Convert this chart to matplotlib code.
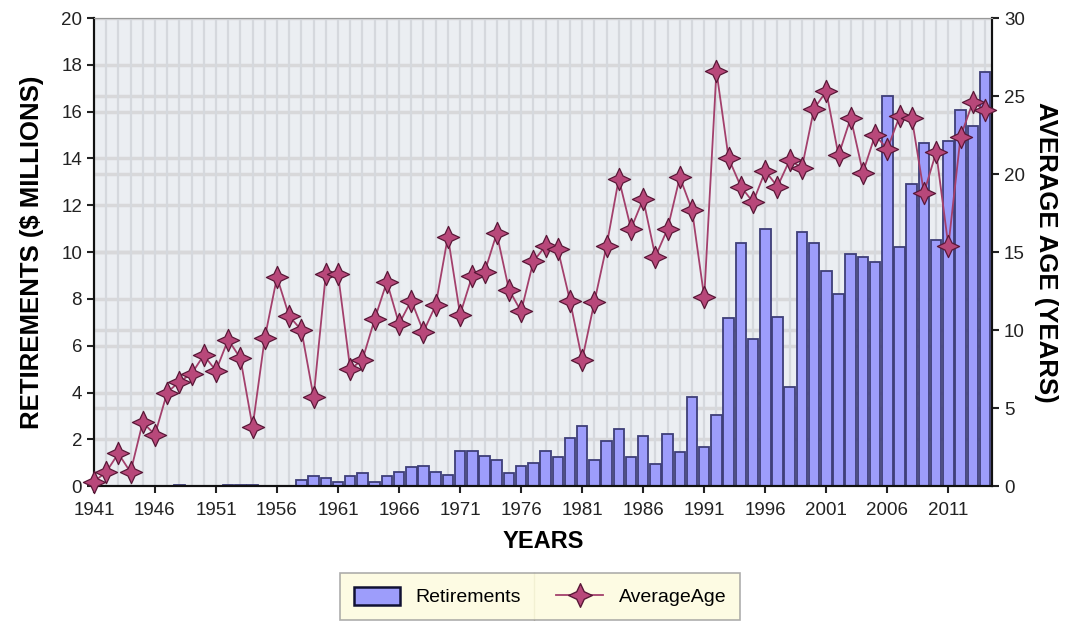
import matplotlib
matplotlib.use("Agg")
import matplotlib.pyplot as plt
from matplotlib.path import Path
from matplotlib.patches import Patch
from matplotlib.lines import Line2D

plt.rcParams['font.family'] = ['Liberation Sans', 'DejaVu Sans']

#%% Data #####################################################################

years = list(range(1941, 2015))

retirements = [0, 0, 0, 0, 0, 0, 0, 0.05, 0, 0,
               0, 0.05, 0.06, 0.04, 0, 0, 0.03, 0.27, 0.43, 0.36,
               0.19, 0.44, 0.57, 0.17, 0.44, 0.61, 0.81, 0.85, 0.61, 0.50,
               1.52, 1.52, 1.28, 1.14, 0.57, 0.85, 1.00, 1.52, 1.24, 2.04,
               2.59, 1.14, 1.95, 2.46, 1.24, 2.14, 0.93, 2.24, 1.45, 3.80,
               1.68, 3.06, 7.17, 10.37, 6.31, 10.98, 7.24, 4.22, 10.84, 10.37,
               9.19, 8.23, 9.91, 9.80, 9.59, 16.67, 10.20, 12.93, 14.64, 10.51,
               14.74, 16.07, 15.38, 17.71]

average_age = [0.3, 0.9, 2.1, 0.9, 4.1, 3.3, 6.0, 6.7, 7.2, 8.4,
               7.4, 9.4, 8.2, 3.8, 9.5, 13.4, 10.9, 10.0, 5.7, 13.6,
               13.6, 7.5, 8.1, 10.7, 13.1, 10.4, 11.9, 9.9, 11.6, 16.0,
               11.0, 13.5, 13.7, 16.2, 12.6, 11.2, 14.4, 15.4, 15.2, 11.9,
               8.1, 11.8, 15.4, 19.7, 16.5, 18.4, 14.7, 16.5, 19.8, 17.7,
               12.1, 26.6, 21.0, 19.2, 18.2, 20.2, 19.2, 20.9, 20.4, 24.2,
               25.3, 21.2, 23.6, 20.1, 22.5, 21.6, 23.7, 23.6, 18.8, 21.4,
               15.4, 22.4, 24.6, 24.1]

year_ticks = list(range(1941, 2012, 5))
left_ticks = list(range(0, 21, 2))
right_ticks = list(range(0, 31, 5))

#%% Style ####################################################################

bar_face = '#9d9dfb'
bar_edge = '#3e3e78'
line_color = '#a3406c'
star_face = '#b8487a'
star_edge = '#5a1838'
star = Path.unit_regular_star(4, 0.45)

#%% Plot #####################################################################

fig = plt.figure(figsize=(10.67, 6.21), dpi=100)
ax1 = fig.add_axes([0.088, 0.217, 0.842, 0.754])
ax1.set_facecolor('#ebeef2')

ax1.set_xlim(1941, 2014.6)
ax1.set_ylim(0, 20)

# horizontal grid for both axes, drawn behind the bars
for t in left_ticks[1:]:
    ax1.axhline(t, color='#d8d8da', lw=2.5, zorder=0)
for t in right_ticks[1:-1]:
    ax1.axhline(t * 20 / 30, color='#d8d8da', lw=2.5, zorder=0)
for y in years:
    ax1.axvline(y, color='#d5d8dd', lw=1.6, zorder=0)

ax1.bar(years, retirements, width=0.86, color=bar_face,
        edgecolor=bar_edge, linewidth=1.3, zorder=2)

ax1.set_xticks(year_ticks)
ax1.set_yticks(left_ticks)
ax1.tick_params(axis='both', labelsize=13.5, colors='#222222', length=5,
                width=1.5, direction='out')
ax1.tick_params(axis='x', pad=6)
ax1.set_xlabel('YEARS', fontsize=17, fontweight='bold', labelpad=8)
ax1.set_ylabel('RETIREMENTS ($ MILLIONS)', fontsize=18.5, fontweight='bold',
               labelpad=12)
for s in ['left', 'bottom', 'right']:
    ax1.spines[s].set_linewidth(1.5)
    ax1.spines[s].set_color('#111111')
ax1.spines['top'].set_color('#999999')

ax2 = ax1.twinx()
ax2.set_ylim(0, 30)
ax2.set_yticks(right_ticks)
ax2.plot(years, average_age, color=line_color, lw=1.3, marker=star,
         markersize=16, markerfacecolor=star_face, markeredgecolor=star_edge,
         markeredgewidth=0.9, clip_on=False, zorder=3)
ax2.tick_params(axis='y', labelsize=13.5, colors='#222222', length=5,
                width=1.5, direction='out')
ax2.set_ylabel('AVERAGE AGE (YEARS)', fontsize=18.5, fontweight='bold',
               rotation=270, labelpad=24)
for s in ['left', 'bottom', 'right']:
    ax2.spines[s].set_linewidth(1.5)
    ax2.spines[s].set_color('#111111')
ax2.spines['top'].set_color('#999999')

handles = [Patch(facecolor=bar_face, edgecolor='#111133', linewidth=1.8),
           Line2D([], [], color=line_color, lw=1.3, marker=star,
                  markersize=17, markerfacecolor=star_face,
                  markeredgecolor=star_edge)]
leg = fig.legend(handles, ['Retirements', 'AverageAge'], ncol=2,
                 loc='center', bbox_to_anchor=(0.506, 0.039), fontsize=14,
                 frameon=True, fancybox=False, facecolor='#fdfbdc',
                 edgecolor='#9a9a9a', handlelength=2.4, handleheight=1.0,
                 columnspacing=1.8, borderpad=0.7)
leg.get_frame().set_linewidth(1.2)

# divider between the two legend entries
fig.canvas.draw()
bb = leg.get_window_extent().transformed(fig.transFigure.inverted())
t1 = leg.get_texts()[0].get_window_extent().transformed(fig.transFigure.inverted())
xd = t1.x1 + 0.012
fig.add_artist(Line2D([xd, xd], [bb.y0, bb.y1], color='#c8c6b0', lw=1.0))

fig.savefig('out.png', dpi=100)
